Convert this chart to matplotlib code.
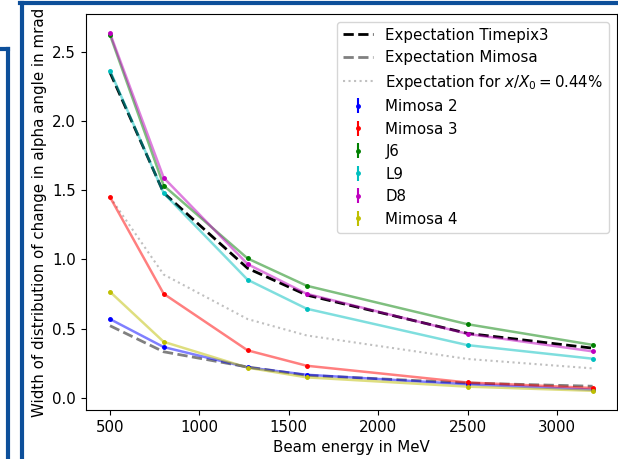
import numpy as np
import matplotlib
matplotlib.use("Agg")
import matplotlib.pyplot as plt
from matplotlib.lines import Line2D

plt.rcParams["font.size"] = 10.8

# beam energies in MeV
energy = [500, 800, 1270, 1600, 2500, 3200]

# expectations
exp_tpx3 = [2.35, 1.48, 0.935, 0.742, 0.465, 0.358]
exp_mimosa = [0.52, 0.332, 0.222, 0.162, 0.106, 0.083]
exp_x0 = [1.45, 0.89, 0.568, 0.45, 0.28, 0.212]

# measured widths
names = ["Mimosa 2", "Mimosa 3", "J6", "L9", "D8", "Mimosa 4"]
colors = ["b", "r", "g", "c", "m", "y"]
mimosa2 = [0.568, 0.366, 0.219, 0.166, 0.097, 0.058]
mimosa3 = [1.449, 0.751, 0.342, 0.231, 0.11, 0.07]
j6 = [2.621, 1.533, 1.006, 0.809, 0.531, 0.382]
l9 = [2.363, 1.478, 0.852, 0.643, 0.38, 0.282]
d8 = [2.633, 1.59, 0.965, 0.751, 0.461, 0.335]
mimosa4 = [0.765, 0.404, 0.217, 0.147, 0.08, 0.05]
widths = [mimosa2, mimosa3, j6, l9, d8, mimosa4]
err = 0.008

fig = plt.figure(figsize=(6.18, 4.59), dpi=100)
ax = fig.add_axes([0.139, 0.107, 0.859, 0.862])

ax.plot(energy, exp_tpx3, "k--", lw=2, label="Expectation Timepix3")
ax.plot(energy, exp_mimosa, "--", color="gray", lw=2, label="Expectation Mimosa")
ax.plot(energy, exp_x0, ":", color="silver", lw=1.5,
        label=r"Expectation for $x/X_0 = 0.44\%$")

for name, c, w in zip(names, colors, widths):
    ax.plot(energy, w, "-", color=c, alpha=0.5, lw=1.8)
    ax.errorbar(energy, w, yerr=err, fmt=".", color=c, ms=5, label=name)

ax.set_xlabel("Beam energy in MeV")
ax.set_ylabel("Width of distribution of change in alpha angle in mrad")
ax.legend(loc="upper right")

# screenshot frame
blue = "#0d4f9a"
fig.add_artist(Line2D([20 / 618, 1], [1 - 2.5 / 459] * 2, color=blue, lw=3,
                      transform=fig.transFigure))
fig.add_artist(Line2D([21.5 / 618] * 2, [0, 1 - 2.5 / 459], color=blue, lw=3,
                      transform=fig.transFigure))
fig.add_artist(Line2D([0, 8 / 618], [1 - 49 / 459] * 2, color=blue, lw=3,
                      transform=fig.transFigure))
fig.add_artist(Line2D([7.5 / 618] * 2, [0, 1 - 49 / 459], color=blue, lw=3,
                      transform=fig.transFigure))

fig.savefig("out.png", dpi=100)
